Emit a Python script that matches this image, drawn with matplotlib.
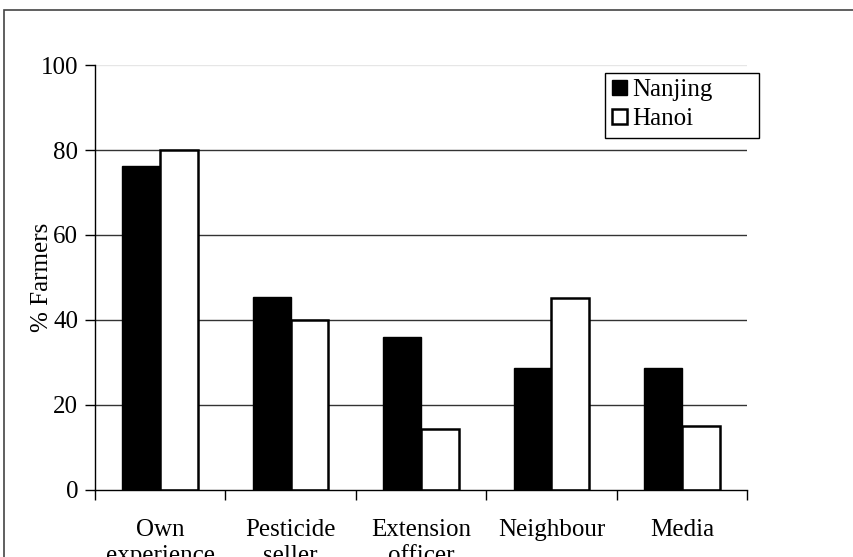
import matplotlib
matplotlib.use('Agg')
import matplotlib.pyplot as plt
import matplotlib.patches as patches
import numpy as np


categories = ['Own\nexperience', 'Pesticide\nseller', 'Extension\nofficer', 'Neighbour', 'Media']
nanjing = [76.3, 45.5, 35.9, 28.6, 28.6]
hanoi = [80.0, 40.0, 14.3, 45.2, 15.1]
yticks = [0, 20, 40, 60, 80, 100]


def main():
    plt.rcParams['font.family'] = ['Liberation Serif', 'DejaVu Serif']
    plt.rcParams['font.size'] = 18

    fig = plt.figure(figsize=(8.54, 5.57), dpi=100)
    ax = fig.add_axes([0.1112, 0.1203, 0.7635, 0.7630])

    x = np.arange(len(categories))
    w = 0.29

    # gridlines (top one is very faint in the original)
    for v in yticks[1:]:
        c = '#e6e6e6' if v == 100 else '#333333'
        ax.axhline(v, color=c, lw=1.0, zorder=0)

    ax.bar(x - w / 2, nanjing, w, color='black', edgecolor='black', lw=1, label='Nanjing', zorder=2)
    ax.bar(x + w / 2, hanoi, w, color='white', edgecolor='black', lw=1.8, label='Hanoi', zorder=2)

    ax.set_xlim(-0.5, len(categories) - 0.5)
    ax.set_ylim(0, 100)
    ax.set_yticks(yticks)
    ax.set_xticks(x)
    ax.set_xticklabels(categories, linespacing=1.25)
    ax.set_xticks(np.arange(-0.5, len(categories)), minor=True)
    ax.tick_params(axis='x', which='major', length=0, pad=21)
    ax.tick_params(axis='x', which='minor', length=7, width=1, direction='out')
    ax.tick_params(axis='y', length=7, width=1, direction='out', pad=5)

    ax.spines['top'].set_visible(False)
    ax.spines['right'].set_visible(False)
    ax.spines['left'].set_linewidth(1)
    ax.spines['bottom'].set_linewidth(1)

    ax.set_ylabel('% Farmers', labelpad=-9)

    # legend entries without frame, box drawn separately (it is wider than its text)
    leg = ax.legend(loc='upper left', bbox_to_anchor=(0.785, 0.978), borderaxespad=0,
                    frameon=False, handlelength=0.6, handleheight=0.6, handletextpad=0.2,
                    borderpad=0.2, labelspacing=0.28, fontsize=18)
    leg.set_zorder(6)
    box = patches.Rectangle((0.782, 0.828), 0.236, 0.153, transform=ax.transAxes,
                            facecolor='white', edgecolor='black', lw=1, clip_on=False, zorder=5)
    ax.add_patch(box)

    # outer chart border, cut off at the right and bottom
    border = patches.Rectangle((4 / 854, -0.1), 1.2, 1.1 - 10 / 557, transform=fig.transFigure,
                               fill=False, edgecolor='#444444', lw=1.2, clip_on=False)
    fig.patches.append(border)

    fig.savefig('out.png', dpi=100)


if __name__ == '__main__':
    main()
